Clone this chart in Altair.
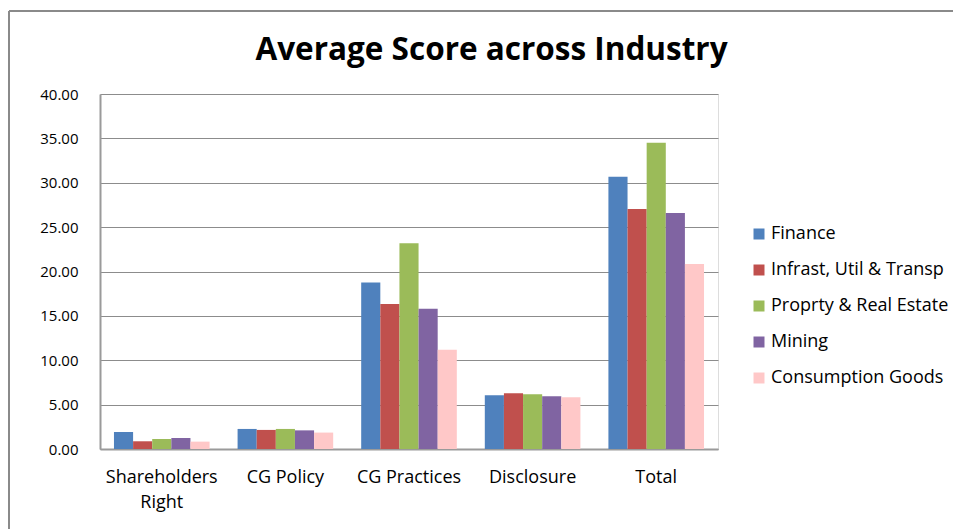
import altair as alt
import pandas as pd

title_text = "Average Score across Industry"
categories = ["Shareholders Right", "CG Policy", "CG Practices", "Disclosure", "Total"]
series = ["Finance", "Infrast, Util & Transp", "Proprty & Real Estate", "Mining", "Consumption Goods"]
colors = ["#4F81BD", "#C0504D", "#9BBB59", "#8064A2", "#FFC8C8"]

finance = [1.92, 2.26, 18.75, 6.07, 30.68]
infrast = [0.87, 2.15, 16.35, 6.29, 27.04]
proprty = [1.13, 2.26, 23.18, 6.18, 34.50]
mining = [1.24, 2.10, 15.79, 5.95, 26.60]
consumption = [0.83, 1.85, 11.17, 5.84, 20.85]

values = [finance, infrast, proprty, mining, consumption]
rows = []
for s, vals in zip(series, values):
    for c, v in zip(categories, vals):
        rows.append({"category": c, "series": s, "value": v})
df = pd.DataFrame(rows)

FONT = "Open Sans"

bars = alt.Chart(df).mark_bar().encode(
    x=alt.X("category:N", sort=categories,
            scale=alt.Scale(paddingInner=0.2265, paddingOuter=0.113),
            axis=alt.Axis(title=None, labelAngle=0, ticks=False, tickSize=0,
                          labelPadding=19, labelFontSize=18, labelFont=FONT,
                          labelColor="#000000", domainColor="#9A9A9A", domainWidth=2,
                          labelExpr="datum.label == 'Shareholders Right' ? ['Shareholders', 'Right'] : datum.label",
                          labelLineHeight=25)),
    xOffset=alt.XOffset("series:N", sort=series, scale=alt.Scale(paddingInner=0, paddingOuter=0)),
    y=alt.Y("value:Q", scale=alt.Scale(domain=[0, 40]),
            axis=alt.Axis(title=None, values=[0, 5, 10, 15, 20, 25, 30, 35, 40], format=".2f",
                          ticks=False, tickSize=0, labelPadding=22, labelFontSize=15,
                          labelFont=FONT, labelColor="#000000", domainColor="#9A9A9A",
                          domainWidth=2, gridColor="#8C8C8C", gridWidth=1.2)),
    color=alt.Color("series:N", sort=series, scale=alt.Scale(domain=series, range=colors),
                    legend=alt.Legend(title=None, orient="none", legendX=650, legendY=131,
                                      symbolType="square", symbolSize=121, symbolStrokeWidth=0,
                                      labelFontSize=18, labelFont=FONT, labelColor="#000000",
                                      labelOffset=3, rowPadding=18, labelLimit=400)),
)

frame_data = alt.Data(values=[{"k": 1}])
frame_left = alt.Chart(frame_data).mark_rule(color="#8A8A8A", strokeWidth=2).encode(
    x=alt.value(-91), y=alt.value(-83), y2=alt.value(500))
frame_top = alt.Chart(frame_data).mark_rule(color="#8A8A8A", strokeWidth=2).encode(
    x=alt.value(-91), x2=alt.value(900), y=alt.value(-83))
title_mark = alt.Chart(frame_data).mark_text(
    font=FONT, fontSize=31.5, fontWeight="bold", color="#000000",
    align="center", baseline="alphabetic").encode(
    x=alt.value(391.5), y=alt.value(-34), text=alt.value(title_text))

chart = alt.layer(bars, frame_left, frame_top, title_mark).properties(
    width=618, height=355,
    autosize=alt.AutoSizeParams(type="none"),
    padding={"left": 92, "top": 86, "right": 235, "bottom": 80},
).configure_view(stroke=None).configure(background="white")

chart.save("out.html", embed_options={"renderer": "svg", "actions": False})
